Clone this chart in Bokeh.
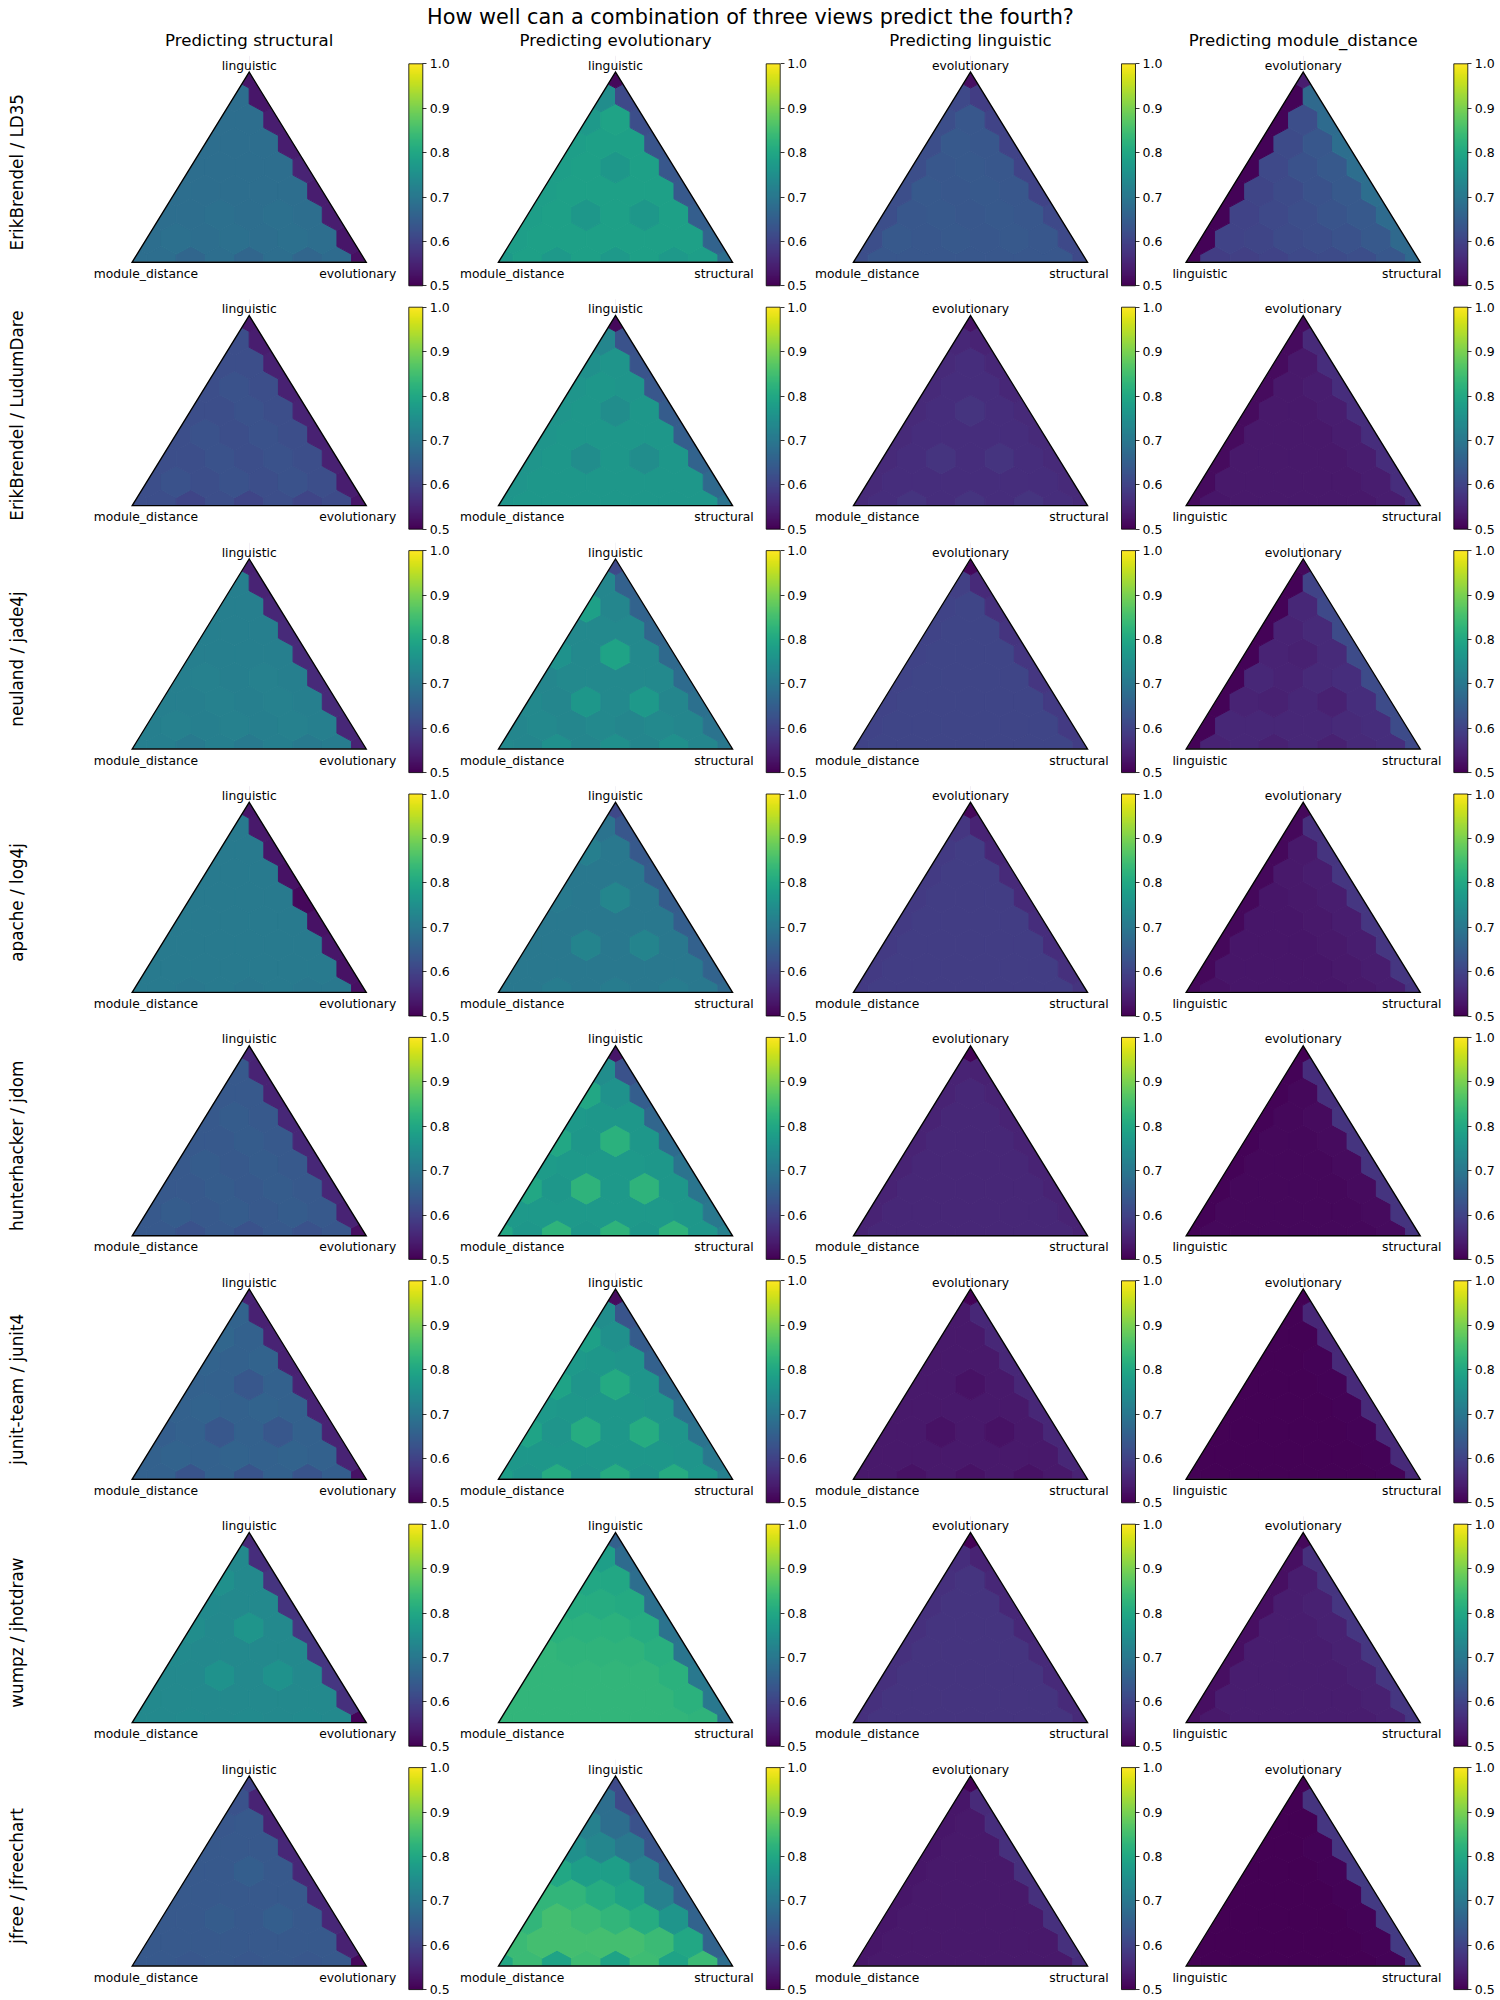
import numpy as np
from bokeh.plotting import figure
from bokeh.models import Range1d, ColumnDataSource, LinearColorMapper, ColorBar, FixedTicker, PrintfTickFormatter
from bokeh.palettes import Viridis256
from bokeh.core.properties import value
from bokeh.embed import file_html
from bokeh.resources import INLINE

# ---------------- data ----------------
main_title = "How well can a combination of three views predict the fourth?"
projects = ["ErikBrendel / LD35", "ErikBrendel / LudumDare", "neuland / jade4j", "apache / log4j",
            "hunterhacker / jdom", "junit-team / junit4", "wumpz / jhotdraw", "jfree / jfreechart"]
targets = ["structural", "evolutionary", "linguistic", "module_distance"]
# corner labels: (top, left, right)
corners = {
    "structural": ("linguistic", "module_distance", "evolutionary"),
    "evolutionary": ("linguistic", "module_distance", "structural"),
    "linguistic": ("evolutionary", "module_distance", "structural"),
    "module_distance": ("evolutionary", "linguistic", "structural"),
}
cbar_ticks = [0.5, 0.6, 0.7, 0.8, 0.9, 1.0]

# hex values: rows from the base (9 cells) up to the apex (1 cell), left to right
ld35_structural = [
    [0.68, 0.68, 0.665, 0.68, 0.665, 0.68, 0.665, 0.675, 0.52],
    [0.68, 0.685, 0.68, 0.685, 0.68, 0.685, 0.68, 0.53],
    [0.68, 0.68, 0.685, 0.68, 0.685, 0.68, 0.54],
    [0.68, 0.68, 0.68, 0.68, 0.68, 0.54],
    [0.68, 0.68, 0.68, 0.68, 0.55],
    [0.68, 0.68, 0.68, 0.54],
    [0.68, 0.68, 0.54],
    [0.68, 0.53],
    [0.53]]
ld35_evolutionary = [
    [0.77, 0.785, 0.77, 0.785, 0.77, 0.785, 0.77, 0.78, 0.68],
    [0.78, 0.785, 0.785, 0.785, 0.785, 0.785, 0.785, 0.66],
    [0.78, 0.785, 0.765, 0.785, 0.765, 0.785, 0.65],
    [0.78, 0.785, 0.785, 0.785, 0.785, 0.64],
    [0.78, 0.785, 0.765, 0.785, 0.635],
    [0.78, 0.785, 0.785, 0.63],
    [0.77, 0.79, 0.62],
    [0.745, 0.61],
    [0.51]]
ld35_linguistic = [
    [0.62, 0.635, 0.635, 0.635, 0.635, 0.635, 0.635, 0.635, 0.61],
    [0.62, 0.64, 0.635, 0.64, 0.635, 0.64, 0.635, 0.61],
    [0.62, 0.635, 0.64, 0.635, 0.64, 0.635, 0.61],
    [0.62, 0.64, 0.635, 0.64, 0.635, 0.60],
    [0.62, 0.635, 0.64, 0.635, 0.60],
    [0.62, 0.64, 0.635, 0.60],
    [0.62, 0.635, 0.60],
    [0.61, 0.59],
    [0.52]]
ld35_module_distance = [
    [0.505, 0.59, 0.595, 0.60, 0.61, 0.615, 0.62, 0.635, 0.67],
    [0.505, 0.60, 0.605, 0.615, 0.62, 0.625, 0.64, 0.67],
    [0.505, 0.60, 0.61, 0.62, 0.63, 0.64, 0.675],
    [0.505, 0.605, 0.615, 0.625, 0.64, 0.68],
    [0.505, 0.61, 0.625, 0.64, 0.68],
    [0.505, 0.615, 0.635, 0.68],
    [0.505, 0.62, 0.675],
    [0.505, 0.67],
    [0.54]]

ludumdare_structural = [
    [0.62, 0.62, 0.605, 0.62, 0.605, 0.62, 0.605, 0.615, 0.53],
    [0.62, 0.625, 0.62, 0.625, 0.62, 0.625, 0.62, 0.54],
    [0.62, 0.62, 0.625, 0.62, 0.625, 0.62, 0.545],
    [0.62, 0.625, 0.62, 0.625, 0.62, 0.545],
    [0.62, 0.62, 0.625, 0.62, 0.55],
    [0.62, 0.625, 0.62, 0.545],
    [0.62, 0.62, 0.545],
    [0.62, 0.54],
    [0.535]]
ludumdare_evolutionary = [
    [0.76, 0.765, 0.765, 0.765, 0.765, 0.765, 0.765, 0.765, 0.69],
    [0.76, 0.765, 0.765, 0.765, 0.765, 0.765, 0.765, 0.67],
    [0.76, 0.765, 0.745, 0.765, 0.745, 0.765, 0.66],
    [0.76, 0.765, 0.765, 0.765, 0.765, 0.65],
    [0.76, 0.765, 0.745, 0.765, 0.645],
    [0.76, 0.765, 0.76, 0.635],
    [0.75, 0.76, 0.63],
    [0.73, 0.625],
    [0.51]]
ludumdare_linguistic = [
    [0.56, 0.565, 0.575, 0.565, 0.575, 0.565, 0.575, 0.565, 0.56],
    [0.56, 0.565, 0.565, 0.565, 0.565, 0.565, 0.565, 0.56],
    [0.56, 0.565, 0.575, 0.565, 0.575, 0.565, 0.56],
    [0.56, 0.565, 0.565, 0.565, 0.565, 0.56],
    [0.56, 0.565, 0.575, 0.565, 0.56],
    [0.56, 0.565, 0.565, 0.555],
    [0.56, 0.565, 0.555],
    [0.555, 0.55],
    [0.525]]
ludumdare_module_distance = [
    [0.515, 0.53, 0.535, 0.535, 0.535, 0.535, 0.535, 0.54, 0.565],
    [0.515, 0.535, 0.535, 0.535, 0.535, 0.535, 0.54, 0.565],
    [0.515, 0.535, 0.535, 0.535, 0.535, 0.54, 0.565],
    [0.515, 0.535, 0.535, 0.535, 0.54, 0.565],
    [0.515, 0.535, 0.535, 0.54, 0.565],
    [0.515, 0.535, 0.54, 0.565],
    [0.515, 0.535, 0.565],
    [0.515, 0.56],
    [0.515]]

jade4j_structural = [
    [0.715, 0.715, 0.705, 0.715, 0.705, 0.715, 0.705, 0.71, 0.55],
    [0.715, 0.72, 0.715, 0.72, 0.715, 0.72, 0.715, 0.555],
    [0.715, 0.715, 0.72, 0.715, 0.72, 0.715, 0.56],
    [0.715, 0.72, 0.715, 0.72, 0.715, 0.56],
    [0.715, 0.715, 0.715, 0.715, 0.56],
    [0.715, 0.715, 0.715, 0.56],
    [0.715, 0.715, 0.555],
    [0.715, 0.55],
    [0.545]]
jade4j_evolutionary = [
    [0.735, 0.73, 0.75, 0.73, 0.75, 0.73, 0.75, 0.73, 0.70],
    [0.73, 0.735, 0.73, 0.735, 0.73, 0.735, 0.73, 0.69],
    [0.735, 0.73, 0.765, 0.735, 0.77, 0.73, 0.685],
    [0.73, 0.735, 0.735, 0.735, 0.735, 0.675],
    [0.755, 0.735, 0.79, 0.735, 0.67],
    [0.735, 0.735, 0.735, 0.665],
    [0.785, 0.73, 0.66],
    [0.73, 0.655],
    [0.61]]
jade4j_linguistic = [
    [0.60, 0.605, 0.605, 0.605, 0.605, 0.605, 0.605, 0.605, 0.59],
    [0.60, 0.605, 0.605, 0.605, 0.605, 0.605, 0.605, 0.585],
    [0.60, 0.605, 0.605, 0.605, 0.605, 0.605, 0.585],
    [0.60, 0.605, 0.605, 0.605, 0.605, 0.58],
    [0.60, 0.605, 0.605, 0.605, 0.58],
    [0.60, 0.605, 0.605, 0.575],
    [0.60, 0.605, 0.57],
    [0.595, 0.56],
    [0.51]]
jade4j_module_distance = [
    [0.505, 0.55, 0.555, 0.545, 0.555, 0.545, 0.56, 0.565, 0.61],
    [0.505, 0.555, 0.555, 0.555, 0.555, 0.56, 0.565, 0.615],
    [0.505, 0.55, 0.545, 0.555, 0.545, 0.565, 0.615],
    [0.505, 0.555, 0.55, 0.56, 0.565, 0.615],
    [0.505, 0.55, 0.545, 0.56, 0.615],
    [0.505, 0.55, 0.56, 0.615],
    [0.505, 0.555, 0.61],
    [0.505, 0.60],
    [0.51]]

log4j_structural = [
    [0.705, 0.705, 0.70, 0.705, 0.70, 0.705, 0.70, 0.70, 0.52],
    [0.705, 0.705, 0.705, 0.705, 0.705, 0.705, 0.705, 0.525],
    [0.705, 0.705, 0.705, 0.705, 0.705, 0.705, 0.53],
    [0.705, 0.705, 0.705, 0.705, 0.705, 0.525],
    [0.705, 0.705, 0.705, 0.705, 0.51],
    [0.705, 0.705, 0.705, 0.525],
    [0.705, 0.705, 0.53],
    [0.705, 0.535],
    [0.53]]
log4j_evolutionary = [
    [0.70, 0.70, 0.71, 0.70, 0.71, 0.70, 0.71, 0.70, 0.67],
    [0.70, 0.70, 0.70, 0.70, 0.70, 0.70, 0.70, 0.66],
    [0.70, 0.70, 0.725, 0.70, 0.725, 0.70, 0.655],
    [0.70, 0.70, 0.70, 0.70, 0.70, 0.65],
    [0.705, 0.70, 0.73, 0.70, 0.645],
    [0.70, 0.70, 0.70, 0.645],
    [0.715, 0.70, 0.64],
    [0.69, 0.635],
    [0.61]]
log4j_linguistic = [
    [0.585, 0.59, 0.59, 0.59, 0.59, 0.59, 0.59, 0.59, 0.575],
    [0.585, 0.59, 0.59, 0.59, 0.59, 0.59, 0.59, 0.57],
    [0.585, 0.59, 0.59, 0.59, 0.59, 0.59, 0.565],
    [0.585, 0.59, 0.59, 0.59, 0.59, 0.565],
    [0.585, 0.59, 0.59, 0.59, 0.56],
    [0.585, 0.59, 0.59, 0.56],
    [0.585, 0.59, 0.555],
    [0.58, 0.55],
    [0.51]]
log4j_module_distance = [
    [0.51, 0.525, 0.53, 0.53, 0.53, 0.53, 0.535, 0.54, 0.575],
    [0.51, 0.53, 0.53, 0.53, 0.53, 0.535, 0.54, 0.58],
    [0.51, 0.53, 0.53, 0.53, 0.535, 0.54, 0.58],
    [0.51, 0.53, 0.53, 0.535, 0.54, 0.58],
    [0.51, 0.53, 0.535, 0.54, 0.58],
    [0.51, 0.535, 0.54, 0.58],
    [0.51, 0.535, 0.575],
    [0.51, 0.57],
    [0.51]]

jdom_structural = [
    [0.64, 0.64, 0.625, 0.64, 0.625, 0.64, 0.625, 0.635, 0.52],
    [0.64, 0.645, 0.64, 0.645, 0.64, 0.645, 0.64, 0.55],
    [0.64, 0.64, 0.645, 0.64, 0.645, 0.64, 0.555],
    [0.64, 0.645, 0.64, 0.645, 0.64, 0.555],
    [0.64, 0.64, 0.645, 0.64, 0.555],
    [0.64, 0.645, 0.64, 0.555],
    [0.64, 0.64, 0.55],
    [0.64, 0.55],
    [0.555]]
jdom_evolutionary = [
    [0.80, 0.765, 0.825, 0.765, 0.825, 0.765, 0.825, 0.765, 0.72],
    [0.77, 0.77, 0.77, 0.77, 0.77, 0.77, 0.765, 0.70],
    [0.80, 0.765, 0.825, 0.77, 0.825, 0.765, 0.695],
    [0.775, 0.77, 0.77, 0.77, 0.765, 0.69],
    [0.80, 0.765, 0.82, 0.765, 0.675],
    [0.77, 0.765, 0.765, 0.665],
    [0.80, 0.755, 0.65],
    [0.745, 0.625],
    [0.53]]
jdom_linguistic = [
    [0.55, 0.555, 0.555, 0.555, 0.555, 0.555, 0.555, 0.555, 0.55],
    [0.55, 0.555, 0.555, 0.555, 0.555, 0.555, 0.555, 0.55],
    [0.55, 0.555, 0.555, 0.555, 0.555, 0.555, 0.55],
    [0.55, 0.555, 0.555, 0.555, 0.555, 0.55],
    [0.55, 0.555, 0.555, 0.555, 0.55],
    [0.55, 0.555, 0.555, 0.55],
    [0.55, 0.555, 0.55],
    [0.55, 0.545],
    [0.505]]
jdom_module_distance = [
    [0.505, 0.51, 0.51, 0.51, 0.51, 0.51, 0.51, 0.515, 0.575],
    [0.505, 0.51, 0.51, 0.51, 0.51, 0.51, 0.515, 0.575],
    [0.505, 0.51, 0.51, 0.51, 0.51, 0.515, 0.575],
    [0.505, 0.51, 0.51, 0.51, 0.515, 0.575],
    [0.505, 0.51, 0.51, 0.515, 0.575],
    [0.505, 0.51, 0.515, 0.575],
    [0.505, 0.51, 0.57],
    [0.505, 0.565],
    [0.50]]

junit4_structural = [
    [0.655, 0.655, 0.63, 0.655, 0.63, 0.655, 0.63, 0.65, 0.525],
    [0.655, 0.66, 0.655, 0.66, 0.655, 0.66, 0.655, 0.55],
    [0.65, 0.655, 0.635, 0.655, 0.635, 0.655, 0.55],
    [0.655, 0.66, 0.655, 0.66, 0.655, 0.55],
    [0.655, 0.655, 0.635, 0.655, 0.55],
    [0.66, 0.655, 0.66, 0.545],
    [0.665, 0.655, 0.55],
    [0.66, 0.545],
    [0.55]]
junit4_evolutionary = [
    [0.78, 0.76, 0.81, 0.76, 0.81, 0.76, 0.81, 0.765, 0.72],
    [0.765, 0.765, 0.765, 0.765, 0.765, 0.765, 0.76, 0.70],
    [0.79, 0.76, 0.81, 0.765, 0.81, 0.76, 0.69],
    [0.77, 0.765, 0.765, 0.765, 0.76, 0.68],
    [0.79, 0.76, 0.805, 0.76, 0.67],
    [0.77, 0.765, 0.76, 0.655],
    [0.785, 0.75, 0.645],
    [0.745, 0.63],
    [0.515]]
junit4_linguistic = [
    [0.535, 0.535, 0.525, 0.535, 0.525, 0.535, 0.525, 0.535, 0.55],
    [0.535, 0.535, 0.535, 0.535, 0.535, 0.535, 0.535, 0.555],
    [0.535, 0.535, 0.525, 0.535, 0.525, 0.535, 0.555],
    [0.535, 0.535, 0.535, 0.535, 0.535, 0.555],
    [0.535, 0.535, 0.525, 0.535, 0.555],
    [0.535, 0.535, 0.535, 0.555],
    [0.535, 0.535, 0.555],
    [0.535, 0.555],
    [0.505]]
junit4_module_distance = [
    [0.502, 0.502, 0.502, 0.502, 0.502, 0.502, 0.502, 0.505, 0.555],
    [0.502, 0.502, 0.502, 0.502, 0.502, 0.502, 0.505, 0.56],
    [0.502, 0.502, 0.502, 0.502, 0.502, 0.505, 0.56],
    [0.502, 0.502, 0.502, 0.502, 0.505, 0.56],
    [0.502, 0.502, 0.502, 0.505, 0.56],
    [0.502, 0.502, 0.505, 0.56],
    [0.502, 0.502, 0.555],
    [0.502, 0.555],
    [0.50]]

jhotdraw_structural = [
    [0.735, 0.735, 0.74, 0.735, 0.74, 0.735, 0.74, 0.735, 0.505],
    [0.735, 0.735, 0.735, 0.735, 0.735, 0.735, 0.735, 0.57],
    [0.735, 0.735, 0.755, 0.735, 0.755, 0.735, 0.58],
    [0.74, 0.735, 0.735, 0.735, 0.735, 0.58],
    [0.745, 0.735, 0.76, 0.735, 0.58],
    [0.74, 0.735, 0.735, 0.575],
    [0.75, 0.735, 0.575],
    [0.735, 0.565],
    [0.56]]
jhotdraw_evolutionary = [
    [0.83, 0.83, 0.83, 0.83, 0.83, 0.83, 0.83, 0.825, 0.69],
    [0.83, 0.83, 0.83, 0.83, 0.83, 0.83, 0.82, 0.70],
    [0.83, 0.83, 0.83, 0.83, 0.83, 0.82, 0.70],
    [0.83, 0.825, 0.825, 0.825, 0.815, 0.695],
    [0.82, 0.82, 0.82, 0.81, 0.69],
    [0.81, 0.81, 0.805, 0.685],
    [0.80, 0.80, 0.68],
    [0.78, 0.675],
    [0.655]]
jhotdraw_linguistic = [
    [0.57, 0.575, 0.575, 0.575, 0.575, 0.575, 0.575, 0.575, 0.56],
    [0.57, 0.575, 0.575, 0.575, 0.575, 0.575, 0.575, 0.56],
    [0.57, 0.575, 0.575, 0.575, 0.575, 0.575, 0.56],
    [0.57, 0.575, 0.575, 0.575, 0.575, 0.56],
    [0.57, 0.575, 0.575, 0.575, 0.555],
    [0.57, 0.575, 0.575, 0.555],
    [0.57, 0.575, 0.555],
    [0.565, 0.55],
    [0.505]]
jhotdraw_module_distance = [
    [0.52, 0.535, 0.54, 0.54, 0.54, 0.54, 0.54, 0.545, 0.58],
    [0.52, 0.54, 0.54, 0.54, 0.54, 0.54, 0.545, 0.58],
    [0.52, 0.54, 0.54, 0.54, 0.54, 0.545, 0.58],
    [0.52, 0.54, 0.54, 0.54, 0.545, 0.58],
    [0.52, 0.54, 0.54, 0.545, 0.58],
    [0.52, 0.54, 0.545, 0.58],
    [0.52, 0.54, 0.575],
    [0.52, 0.57],
    [0.51]]

jfreechart_structural = [
    [0.64, 0.64, 0.635, 0.64, 0.635, 0.64, 0.635, 0.64, 0.51],
    [0.64, 0.64, 0.64, 0.64, 0.64, 0.64, 0.64, 0.545],
    [0.64, 0.64, 0.645, 0.64, 0.65, 0.64, 0.555],
    [0.64, 0.64, 0.64, 0.64, 0.64, 0.555],
    [0.64, 0.64, 0.65, 0.64, 0.555],
    [0.64, 0.64, 0.64, 0.555],
    [0.635, 0.64, 0.55],
    [0.625, 0.55],
    [0.60]]
jfreechart_evolutionary = [
    [0.80, 0.84, 0.79, 0.845, 0.79, 0.845, 0.79, 0.84, 0.68],
    [0.84, 0.85, 0.85, 0.85, 0.85, 0.84, 0.80, 0.66],
    [0.83, 0.85, 0.84, 0.83, 0.81, 0.76, 0.66],
    [0.83, 0.83, 0.81, 0.79, 0.72, 0.65],
    [0.80, 0.78, 0.78, 0.72, 0.645],
    [0.75, 0.73, 0.70, 0.63],
    [0.72, 0.68, 0.625],
    [0.68, 0.61],
    [0.61]]
jfreechart_linguistic = [
    [0.53, 0.535, 0.535, 0.535, 0.535, 0.535, 0.535, 0.535, 0.565],
    [0.53, 0.535, 0.535, 0.535, 0.535, 0.535, 0.535, 0.57],
    [0.53, 0.535, 0.535, 0.535, 0.535, 0.535, 0.57],
    [0.53, 0.535, 0.535, 0.535, 0.535, 0.57],
    [0.53, 0.535, 0.535, 0.535, 0.57],
    [0.53, 0.535, 0.535, 0.57],
    [0.53, 0.535, 0.565],
    [0.53, 0.56],
    [0.505]]
jfreechart_module_distance = [
    [0.50, 0.50, 0.50, 0.50, 0.50, 0.50, 0.50, 0.505, 0.585],
    [0.50, 0.50, 0.50, 0.50, 0.50, 0.50, 0.505, 0.585],
    [0.50, 0.50, 0.50, 0.50, 0.50, 0.505, 0.585],
    [0.50, 0.50, 0.50, 0.50, 0.505, 0.585],
    [0.50, 0.50, 0.50, 0.505, 0.585],
    [0.50, 0.50, 0.505, 0.58],
    [0.50, 0.50, 0.58],
    [0.50, 0.575],
    [0.50]]

panel_table = [
    [ld35_structural, ld35_evolutionary, ld35_linguistic, ld35_module_distance],
    [ludumdare_structural, ludumdare_evolutionary, ludumdare_linguistic, ludumdare_module_distance],
    [jade4j_structural, jade4j_evolutionary, jade4j_linguistic, jade4j_module_distance],
    [log4j_structural, log4j_evolutionary, log4j_linguistic, log4j_module_distance],
    [jdom_structural, jdom_evolutionary, jdom_linguistic, jdom_module_distance],
    [junit4_structural, junit4_evolutionary, junit4_linguistic, junit4_module_distance],
    [jhotdraw_structural, jhotdraw_evolutionary, jhotdraw_linguistic, jhotdraw_module_distance],
    [jfreechart_structural, jfreechart_evolutionary, jfreechart_linguistic, jfreechart_module_distance],
]

# ---------------- layout (canvas pixels) ----------------
CW, CH = 1500, 2000
TW, TH = 234.0, 190.0           # triangle width / height
col_left = [131.7, 498.0, 853.0, 1185.7]
cbar_left = [408.3, 765.7, 1121.0, 1453.3]
row_pitch = 243.4
apex_y0 = 71.7
cbar_top0 = 63.3
cbar_h = 222
cbar_w = 14
FONT = value("DejaVu Sans")
N = 8

p = figure(width=CW, height=CH, x_range=Range1d(0, CW), y_range=Range1d(CH, 0),
           toolbar_location=None, output_backend="svg", min_border=0,
           x_axis_type=None, y_axis_type=None)
p.grid.visible = False
p.outline_line_color = None
p.background_fill_color = "white"

mapper = LinearColorMapper(palette=Viridis256, low=0.5, high=1.0)

hx, hy, hv = [], [], []
mx, my = [], []
tx, ty = [], []
for pi in range(len(projects)):
    for ti in range(len(targets)):
        grid = panel_table[pi][ti]
        L = col_left[ti]
        R = L + TW
        Ay = apex_y0 + pi * row_pitch
        B = Ay + TH
        Ax = L + TW / 2
        for r, row in enumerate(grid):
            for j, v in enumerate(row):
                top = r / N          # ternary weight of top corner
                right = j / N        # ternary weight of right corner
                cx = L + (right + top / 2) * TW
                cy = B - top * TH
                dx = TW / (2 * N)
                d1 = TH / (3 * N)
                d2 = 2 * TH / (3 * N)
                hx.append([cx + dx, cx + dx, cx, cx - dx, cx - dx, cx])
                hy.append([cy + d1, cy - d1, cy - d2, cy - d1, cy + d1, cy + d2])
                hv.append(v)
        m = 22
        mx += [[L, Ax, Ax, L - m, L - m, L],
               [R, Ax, Ax, R + m, R + m, R],
               [L - m, R + m, R + m, L - m]]
        my += [[B, Ay, Ay - m, Ay - m, B + m, B + m],
               [B, Ay, Ay - m, Ay - m, B + m, B + m],
               [B, B, B + m, B + m]]
        tx.append([L, Ax, R])
        ty.append([B, Ay, B])

hex_src = ColumnDataSource(dict(xs=hx, ys=hy, val=hv))
p.patches("xs", "ys", source=hex_src,
          fill_color={"field": "val", "transform": mapper},
          line_color={"field": "val", "transform": mapper}, line_width=1.0)
p.patches(mx, my, fill_color="white", line_color="white", line_width=0.5)
p.patches(tx, ty, fill_alpha=0, line_color="black", line_width=1.4, line_join="miter")

# corner labels
lab_x, lab_y, lab_t = [], [], []
for pi in range(len(projects)):
    for ti, tgt in enumerate(targets):
        L = col_left[ti]
        R = L + TW
        Ay = apex_y0 + pi * row_pitch
        B = Ay + TH
        tl, ll, rl = corners[tgt]
        lab_x += [L + TW / 2, L + 13.7, R - 8.5]
        lab_y += [Ay - 6.5, B + 11.5, B + 11.5]
        lab_t += [tl, ll, rl]
p.text(x=lab_x, y=lab_y, text=lab_t, text_font=FONT, text_font_size=value("12.3px"),
       text_align="center", text_baseline="alphabetic", text_color="black")

# column titles
p.text(x=[col_left[i] + TW / 2 for i in range(4)], y=[40] * 4,
       text=["Predicting " + t for t in targets], text_font=FONT,
       text_font_size=value("16.6px"), text_align="center", text_baseline="alphabetic",
       text_color="black")
# row labels
p.text(x=[16] * len(projects), y=[apex_y0 + TH / 2 + 5 + i * row_pitch for i in range(len(projects))],
       text=projects, angle=np.pi / 2, text_font=FONT, text_font_size=value("16.8px"),
       text_align="center", text_baseline="middle", text_color="black")
# main title
p.text(x=[750], y=[16.5], text=[main_title], text_font=FONT, text_font_size=value("20.8px"),
       text_align="center", text_baseline="alphabetic", text_color="black")

# colour bars
for pi in range(len(projects)):
    for ti in range(len(targets)):
        top = cbar_top0 + pi * row_pitch
        cb = ColorBar(color_mapper=mapper, orientation="vertical",
                      location=(cbar_left[ti], CH - (top + cbar_h)),
                      width=cbar_w, height=cbar_h, padding=0, margin=0,
                      ticker=FixedTicker(ticks=cbar_ticks),
                      formatter=PrintfTickFormatter(format="%.1f"),
                      major_tick_out=4, major_tick_in=0, minor_tick_out=0, minor_tick_in=0,
                      major_tick_line_color="black", major_tick_line_width=0.8,
                      bar_line_color="black", bar_line_width=0.8,
                      major_label_text_font="DejaVu Sans",
                      major_label_text_font_size="12.5px", major_label_text_color="black",
                      label_standoff=3, background_fill_alpha=0, border_line_color=None)
        p.add_layout(cb)

open("out.html", "w").write(file_html(p, INLINE))
